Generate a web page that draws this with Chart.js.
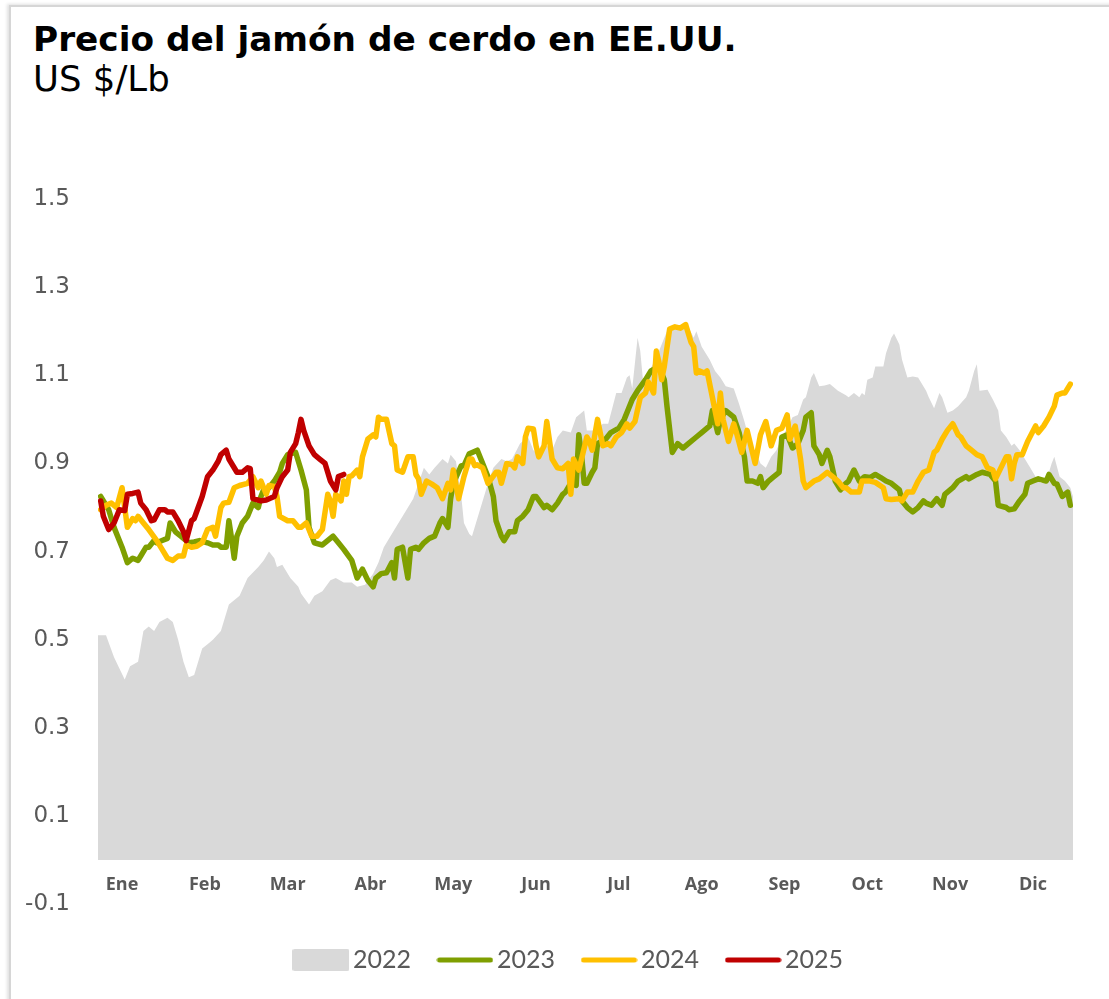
<!DOCTYPE html>
<html>
<head>
<meta charset="utf-8">
<script src="https://cdn.jsdelivr.net/npm/chart.js@4"></script>
<style>
  body { margin: 0; background: #fff; width: 1109px; height: 999px; overflow: hidden; position: relative; }
  #frame { position: absolute; left: 9px; top: 5px; width: 1200px; height: 1100px;
           border-left: 2px solid #d6d6d6; border-top: 2px solid #d6d6d6;
           box-shadow: -2px -1px 3px rgba(0,0,0,0.12); }
  #title { position: absolute; left: 33px; top: 21.5px; font: bold 34.3px/34.3px "DejaVu Sans", sans-serif; color: #000; white-space: nowrap; }
  #subtitle { position: absolute; left: 33px; top: 60.5px; font: 35.5px/35.5px "DejaVu Sans", sans-serif; color: #000; white-space: nowrap; }
  #wrap { position: absolute; left: 0; top: 150px; width: 1109px; height: 849px; }
</style>
</head>
<body>
<div id="frame"></div>
<div id="title">Precio del jamón de cerdo en EE.UU.</div>
<div id="subtitle">US $/Lb</div>
<div id="wrap"><canvas id="chart"></canvas></div>
<script>
// day of year (0-365) and price in US$/Lb
const days2022 = [0,3,6,10,12,15,17,19,21,23,26,28,30,32,34,36,39,41,43,46,49,53,56,60,62,64,66,67,69,72,75,76,79,81,84,87,89,92,95,97,100,103,105,107,111,115,118,120,122,124,126,129,131,132,134,136,137,139,140,143,146,148,151,153,155,158,161,163,165,168,170,172,174,177,179,182,183,186,189,191,194,196,198,199,200,202,203,204,206,209,211,213,216,219,221,223,224,226,229,231,233,235,238,240,242,244,247,248,250,252,254,256,258,260,262,264,265,267,268,270,272,274,277,280,281,283,285,286,287,288,290,291,292,294,295,297,298,300,301,303,305,307,310,311,313,315,316,318,320,322,325,326,328,329,330,333,335,337,338,340,342,343,345,347,349,351,353,355,357,358,360,362,364,365];
const price2022 = [0.51,0.51,0.46,0.41,0.44,0.45,0.52,0.53,0.52,0.54,0.55,0.54,0.50,0.45,0.415,0.42,0.48,0.49,0.50,0.52,0.58,0.60,0.64,0.665,0.68,0.70,0.685,0.665,0.67,0.64,0.62,0.605,0.58,0.60,0.61,0.635,0.64,0.63,0.63,0.62,0.625,0.65,0.675,0.71,0.75,0.79,0.82,0.855,0.89,0.875,0.89,0.91,0.90,0.92,0.905,0.825,0.765,0.74,0.735,0.795,0.855,0.89,0.91,0.905,0.91,0.945,0.96,0.93,0.92,0.94,0.93,0.96,0.975,0.97,1.005,1.02,0.975,0.975,0.99,0.99,1.06,1.06,1.095,1.10,1.07,1.185,1.155,1.09,1.105,1.14,1.17,1.20,1.21,1.215,1.21,1.185,1.20,1.165,1.135,1.11,1.095,1.075,1.07,1.035,0.995,0.95,0.915,0.90,0.89,0.915,0.93,0.96,0.98,1.005,1.01,1.045,1.05,1.095,1.105,1.075,1.077,1.08,1.065,1.055,1.05,1.06,1.05,1.06,1.055,1.09,1.095,1.12,1.12,1.12,1.15,1.185,1.195,1.17,1.135,1.095,1.097,1.095,1.065,1.05,1.025,1.06,1.05,1.015,1.02,1.03,1.05,1.065,1.11,1.125,1.065,1.067,1.045,1.02,0.975,0.96,0.94,0.945,0.93,0.91,0.89,0.87,0.855,0.86,0.90,0.915,0.87,0.86,0.845,0.825];

const days2023 = [1,4,6,9,11,13,15,16,18,19,21,22,24,26,27,29,31,33,34,36,38,41,43,45,46,48,49,50,51,52,54,56,58,60,61,62,64,66,68,69,71,74,76,78,79,81,84,88,90,92,95,97,99,101,103,104,106,108,110,111,112,114,116,117,119,120,122,124,126,128,129,131,132,133,136,137,139,142,144,146,148,149,151,152,154,156,157,159,161,163,164,167,168,170,172,174,175,177,179,180,181,182,183,185,186,187,190,192,195,197,200,202,205,207,210,212,213,215,217,219,221,224,226,229,230,232,233,235,238,240,242,243,245,247,248,249,251,253,255,256,258,260,262,264,265,267,268,270,271,273,274,276,278,280,281,283,285,287,289,291,293,295,297,300,301,303,305,307,309,310,312,314,316,317,320,322,325,326,329,331,334,336,337,340,341,343,345,347,348,350,352,355,356,358,359,361,363,364];
const price2023 = [0.825,0.795,0.755,0.71,0.675,0.685,0.68,0.69,0.71,0.71,0.725,0.72,0.725,0.73,0.765,0.745,0.735,0.725,0.72,0.722,0.725,0.72,0.715,0.715,0.71,0.71,0.77,0.73,0.685,0.735,0.765,0.78,0.81,0.80,0.825,0.84,0.845,0.86,0.88,0.90,0.92,0.925,0.885,0.84,0.755,0.72,0.715,0.735,0.72,0.705,0.68,0.64,0.66,0.635,0.62,0.64,0.65,0.652,0.675,0.64,0.705,0.71,0.64,0.705,0.71,0.705,0.72,0.73,0.735,0.765,0.775,0.755,0.82,0.855,0.895,0.895,0.922,0.93,0.90,0.87,0.825,0.77,0.735,0.725,0.745,0.745,0.77,0.78,0.795,0.825,0.825,0.80,0.805,0.795,0.81,0.83,0.835,0.855,0.85,0.965,0.92,0.855,0.855,0.88,0.89,0.945,0.955,0.97,0.98,1.0,1.045,1.065,1.09,1.11,1.12,1.09,1.03,0.925,0.945,0.935,0.945,0.96,0.97,0.985,1.02,0.97,1.0,1.02,1.005,0.97,0.915,0.86,0.86,0.855,0.87,0.845,0.86,0.87,0.88,0.96,0.965,0.935,0.945,0.975,1.005,1.015,0.94,0.92,0.90,0.93,0.915,0.86,0.84,0.855,0.86,0.885,0.86,0.87,0.868,0.875,0.868,0.86,0.855,0.84,0.815,0.80,0.79,0.80,0.815,0.81,0.805,0.82,0.805,0.83,0.845,0.86,0.87,0.865,0.875,0.88,0.875,0.86,0.805,0.80,0.795,0.797,0.815,0.83,0.855,0.86,0.865,0.86,0.875,0.855,0.853,0.825,0.835,0.805];

const days2024 = [1,3,5,7,9,11,13,14,15,17,19,22,24,26,28,30,32,33,35,37,39,41,43,44,46,47,49,51,53,56,58,60,61,63,64,66,67,68,71,73,75,76,78,80,82,84,86,87,88,89,91,92,93,94,95,97,98,99,101,103,104,105,106,108,110,111,112,114,116,118,119,120,121,123,125,127,129,131,132,133,135,137,139,140,141,142,144,146,149,150,151,153,155,156,157,159,160,161,163,164,165,167,168,170,172,174,176,177,178,180,181,183,184,185,187,189,191,192,194,196,198,199,201,203,205,206,208,209,210,211,212,214,216,218,220,222,223,224,225,227,228,230,232,233,234,236,238,239,241,243,245,246,248,250,252,254,256,258,259,261,263,264,265,268,270,273,275,277,279,280,282,285,286,289,291,294,295,297,300,301,303,305,307,309,311,313,314,316,318,320,322,323,325,327,329,331,333,335,336,338,340,341,342,343,344,346,348,351,352,354,356,358,359,361,362,364];
const price2024 = [0.795,0.805,0.81,0.80,0.845,0.755,0.775,0.77,0.78,0.765,0.75,0.725,0.705,0.685,0.68,0.69,0.69,0.715,0.71,0.712,0.72,0.75,0.755,0.735,0.80,0.81,0.812,0.845,0.85,0.855,0.87,0.845,0.86,0.83,0.85,0.848,0.825,0.78,0.77,0.77,0.755,0.755,0.765,0.735,0.735,0.75,0.83,0.815,0.78,0.83,0.815,0.86,0.83,0.87,0.872,0.885,0.87,0.915,0.955,0.965,0.96,1.005,1.0,1.0,0.945,0.94,0.885,0.88,0.915,0.915,0.875,0.865,0.83,0.86,0.853,0.845,0.82,0.855,0.84,0.885,0.82,0.87,0.91,0.91,0.895,0.897,0.89,0.855,0.88,0.88,0.855,0.90,0.897,0.89,0.915,0.90,0.96,0.98,0.978,0.94,0.915,0.94,0.995,0.91,0.89,0.888,0.90,0.83,0.91,0.885,0.91,0.96,0.95,0.93,1.0,0.94,0.945,0.94,0.96,0.97,0.99,0.98,0.995,1.05,1.06,1.085,1.06,1.155,1.13,1.09,1.12,1.205,1.21,1.207,1.215,1.175,1.165,1.105,1.11,1.105,1.11,1.05,0.99,1.06,1.0,0.95,0.99,0.97,0.925,0.975,0.925,0.90,0.965,0.995,0.94,0.975,0.98,1.01,0.955,0.985,0.91,0.86,0.845,0.86,0.865,0.88,0.87,0.86,0.845,0.845,0.835,0.835,0.86,0.86,0.857,0.845,0.82,0.818,0.82,0.815,0.835,0.835,0.86,0.88,0.885,0.925,0.93,0.955,0.975,0.99,0.965,0.96,0.94,0.93,0.92,0.915,0.89,0.885,0.865,0.89,0.915,0.915,0.865,0.90,0.92,0.92,0.95,0.985,0.97,0.985,1.005,1.03,1.055,1.06,1.06,1.08];

const days2025 = [1,2,4,6,8,10,11,13,15,16,18,20,21,23,25,26,28,30,32,33,35,36,39,41,43,45,46,48,49,52,54,56,57,58,61,63,66,67,69,71,72,74,75,76,77,79,81,83,85,87,89,90,92];
const price2025 = [0.815,0.78,0.75,0.765,0.795,0.793,0.83,0.832,0.835,0.81,0.795,0.77,0.772,0.795,0.795,0.79,0.79,0.77,0.745,0.725,0.77,0.775,0.825,0.87,0.885,0.905,0.92,0.93,0.91,0.88,0.88,0.89,0.888,0.82,0.815,0.817,0.825,0.845,0.87,0.885,0.925,0.945,0.97,1.0,0.975,0.94,0.92,0.91,0.90,0.86,0.84,0.87,0.875];

const monthNames = ['Ene','Feb','Mar','Abr','May','Jun','Jul','Ago','Sep','Oct','Nov','Dic'];
const monthDays = [9,40,71,102,133,164,195,226,257,288,319,350];
const yTicks = [-0.1,0.1,0.3,0.5,0.7,0.9,1.1,1.3,1.5];

const pts = (d, p) => d.map((x, i) => ({x: x, y: p[i]}));

// legend marks drawn on small canvases so the gap to the text is tight
function mark(kind, color) {
  const c = document.createElement('canvas');
  c.width = 57; c.height = 22;
  const g = c.getContext('2d');
  if (kind === 'box') {
    g.fillStyle = color;
    g.beginPath(); g.roundRect(0, 0, 57, 22, 2); g.fill();
  } else {
    g.strokeStyle = color; g.lineWidth = 5; g.lineCap = 'round';
    g.beginPath(); g.moveTo(3, 11); g.lineTo(54, 11); g.stroke();
  }
  return c;
}

const grey = '#D9D9D9', green = '#7F9F00', yellow = '#FFC000', red = '#C00000';
const marks = [mark('box', grey), mark('line', green), mark('line', yellow), mark('line', red)];

// y labels are mirrored (so they are not clipped by the narrow axis box) and pushed back left
const yFont = '23px "DejaVu Sans"';
const meas = document.createElement('canvas').getContext('2d');
meas.font = yFont;
const widest = Math.max(...yTicks.map(v => meas.measureText(v.toFixed(1)).width));

const line = (label, data, color, order) => ({
  label: label, data: data, borderColor: color, backgroundColor: color, order: order,
  borderWidth: 5.5, pointRadius: 0, fill: false, tension: 0,
  borderJoinStyle: 'round', borderCapStyle: 'round'
});

new Chart(document.getElementById('chart'), {
  type: 'line',
  data: {
    datasets: [
      { label: '2022', data: pts(days2022, price2022), backgroundColor: grey, borderColor: grey, order: 4,
        borderWidth: 0, pointRadius: 0, fill: 'origin', tension: 0 },
      line('2023', pts(days2023, price2023), green, 3),
      line('2024', pts(days2024, price2024), yellow, 2),
      line('2025', pts(days2025, price2025), red, 1)
    ]
  },
  options: {
    responsive: true,
    maintainAspectRatio: false,
    animation: false,
    layout: { padding: { top: 49, left: 71.5, right: 36, bottom: 16.5 } },
    plugins: {
      tooltip: { enabled: false },
      legend: {
        position: 'bottom',
        labels: {
          usePointStyle: true,
          pointStyleWidth: 39,
          padding: 34.5,
          color: '#595959',
          font: { family: 'Lato', size: 25 },
          sort: (a, b) => a.datasetIndex - b.datasetIndex,
          generateLabels: chart => Chart.defaults.plugins.legend.labels.generateLabels(chart)
            .map(item => Object.assign(item, { pointStyle: marks[item.datasetIndex] }))
        }
      }
    },
    scales: {
      x: {
        type: 'linear', min: 0, max: 365,
        position: { y: 0 },
        afterBuildTicks: s => { s.ticks = monthDays.map(v => ({ value: v })); },
        grid: { display: false, drawTicks: false },
        border: { display: false },
        ticks: {
          autoSkip: false, maxRotation: 0, padding: 14, color: '#595959',
          font: { family: 'Open Sans', size: 18, weight: 'bold' },
          callback: (v, i) => monthNames[i]
        }
      },
      y: {
        min: -0.12, max: 1.5,
        afterBuildTicks: s => { s.ticks = yTicks.map(v => ({ value: v })); },
        afterFit: s => { s.width = 26.5; },
        grid: { display: false, drawTicks: false },
        border: { display: false },
        ticks: {
          mirror: true, crossAlign: 'far',
          padding: -28 - widest,
          color: '#595959',
          font: { family: 'DejaVu Sans', size: 23 },
          callback: v => v.toFixed(1)
        }
      }
    }
  }
});
</script>
</body>
</html>
